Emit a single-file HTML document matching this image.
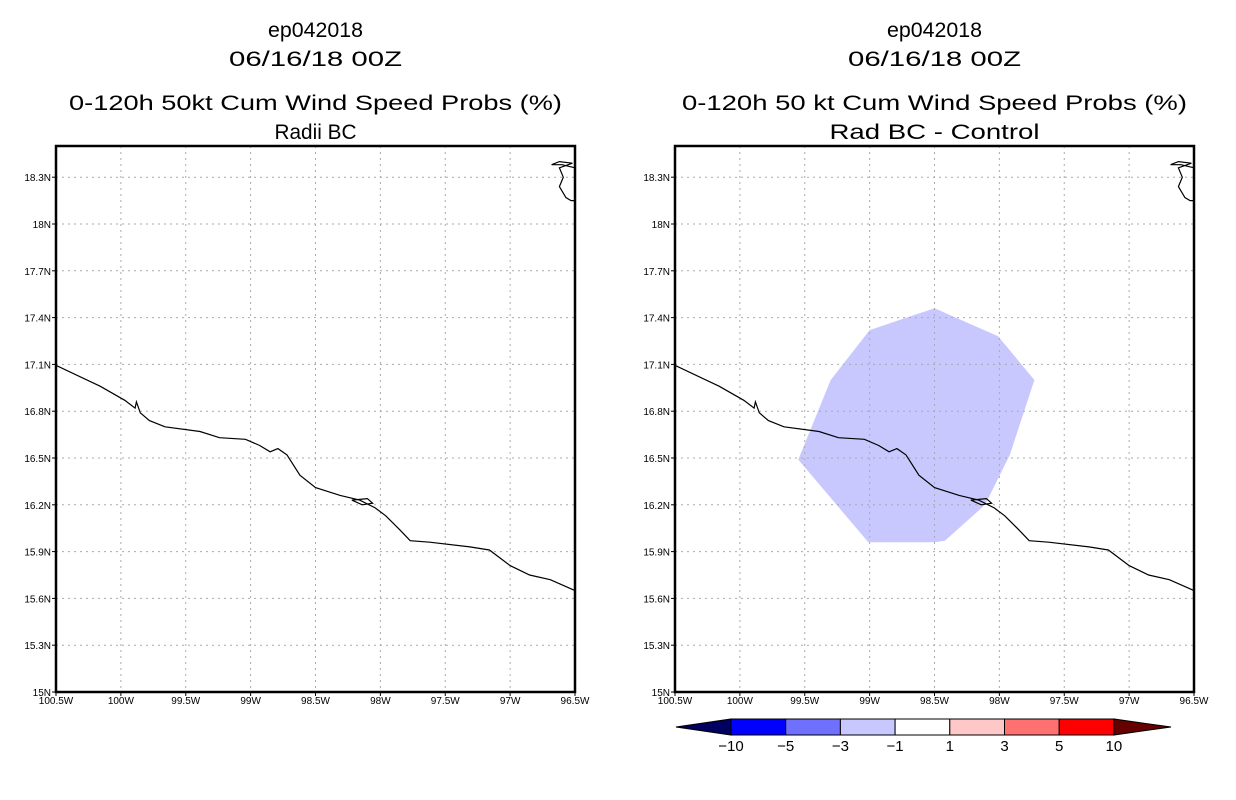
<!DOCTYPE html>
<html><head><meta charset="utf-8"><style>
body{margin:0;background:#fff;}
svg{display:block;font-family:"Liberation Sans",sans-serif;}
</style></head><body>
<svg id="svg" width="1236" height="800" xmlns="http://www.w3.org/2000/svg"></svg>
<script>
const lonTicks=[-100.5,-100,-99.5,-99,-98.5,-98,-97.5,-97,-96.5];
const lonLabels=["100.5W","100W","99.5W","99W","98.5W","98W","97.5W","97W","96.5W"];
const latTicks=[15,15.3,15.6,15.9,16.2,16.5,16.8,17.1,17.4,17.7,18,18.3];
const latLabels=["15N","15.3N","15.6N","15.9N","16.2N","16.5N","16.8N","17.1N","17.4N","17.7N","18N","18.3N"];
const coastLon=[-100.5,-100.49,-100.16,-99.97,-99.89,-99.88,-99.85,-99.78,-99.66,-99.39,-99.24,-99.04,-98.93,-98.85,-98.79,-98.72,-98.62,-98.50,-98.31,-98.16,-98.04,-97.96,-97.85,-97.77,-97.62,-97.31,-97.16,-97.0,-96.85,-96.69,-96.5];
const coastLat=[17.09,17.09,16.96,16.87,16.82,16.86,16.79,16.74,16.70,16.67,16.63,16.62,16.58,16.54,16.56,16.52,16.39,16.31,16.26,16.23,16.18,16.13,16.04,15.97,15.96,15.93,15.91,15.81,15.75,15.72,15.65];
const coast2Lon=[-96.5,-96.60,-96.68,-96.62,-96.52,-96.62,-96.59,-96.62,-96.57,-96.53,-96.5];
const coast2Lat=[18.36,18.38,18.38,18.40,18.39,18.36,18.30,18.24,18.17,18.15,18.15];
const islandLon=[-98.22,-98.10,-98.06,-98.14,-98.22];
const islandLat=[16.23,16.24,16.21,16.20,16.23];
const probLon=[-99.55,-99.30,-99.0,-98.5,-98.01,-97.73,-97.92,-98.11,-98.42,-98.5,-99.01];
const probLat=[16.49,17.0,17.32,17.46,17.28,17.0,16.52,16.2,15.97,15.96,15.96];
const cbLevels=["-10","-5","-3","-1","1","3","5","10"];
const cbColors=["#000060","#0000ff","#7070ff","#c8c8ff","#ffffff","#ffc8c8","#ff7070","#ff0000","#660000"];

const NS="http://www.w3.org/2000/svg";
const svg=document.getElementById('svg');
function mk(t,a,p){const e=document.createElementNS(NS,t);for(const k in a)e.setAttribute(k,a[k]);(p||svg).appendChild(e);return e;}
const T=146,B=692,W=519;
function xs(x0){return lon=>x0+(lon+100.5)/4*W;}
function ys(lat){return B-(lat-15)/3.5*(B-T);}
function pts(fx,L,A){return L.map((l,i)=>fx(l).toFixed(1)+","+ys(A[i]).toFixed(1)).join(" ");}

function panel(x0,t3,t4,name,withProb,lens){
  const g=mk('g',{});
  
  
  const fx=xs(x0), cx=x0+W/2;
  [["ep042018",37],["06/16/18 00Z",66],[t3,110],[t4,139]].forEach((s,i)=>{
    const t=mk('text',{x:cx,y:s[1],'text-anchor':'middle','font-size':21,fill:'#000',textLength:lens[i],lengthAdjust:'spacingAndGlyphs'},g);
    t.textContent=s[0];
    
    
  });
  if(withProb){
    const p=mk('polygon',{points:pts(fx,probLon,probLat),fill:'#c8c8ff',stroke:'none'},g);
    
    
  }
  lonTicks.forEach((l,i)=>{
    const x=fx(l);
    if(i>0&&i<lonTicks.length-1){const gl=mk('line',{x1:x,x2:x,y1:T,y2:B,stroke:'#aaa','stroke-dasharray':'2,4'},g);
      }
    mk('line',{x1:x,x2:x,y1:B,y2:B+4,stroke:'#000'},g);
    const t=mk('text',{x:x,y:B+12,'text-anchor':'middle','font-size':10},g);
    t.textContent=lonLabels[i];
    
    
  });
  latTicks.forEach((l,i)=>{
    const y=ys(l);
    if(i>0){const gl=mk('line',{x1:x0,x2:x0+W,y1:y,y2:y,stroke:'#aaa','stroke-dasharray':'2,4'},g);
      }
    mk('line',{x1:x0-4,x2:x0,y1:y,y2:y,stroke:'#000'},g);
    const t=mk('text',{x:x0-5,y:y+4,'text-anchor':'end','font-size':10},g);
    t.textContent=latLabels[i];
    
    
  });
  [[coastLon,coastLat],[coast2Lon,coast2Lat],[islandLon,islandLat]].forEach(c=>{
    const pl=mk('polyline',{points:pts(fx,c[0],c[1]),fill:'none',stroke:'#000','stroke-width':1.2},g);
    
    
  });
  const f=mk('rect',{x:x0,y:T,width:W,height:B-T,fill:'none',stroke:'#000','stroke-width':2.5},g);
  
  
}
panel(56,"0-120h 50kt Cum Wind Speed Probs (%)","Radii BC","left-panel",false,[95,173,493,82]);
panel(675,"0-120h 50 kt Cum Wind Speed Probs (%)","Rad BC - Control","right-panel",true,[95,173,505,210]);

// colorbar
const cb=mk('g',{});


const cbX0=731,cbW=54.7,cy0=719,cy1=735;
mk('polygon',{points:`676,727 ${cbX0},${cy0} ${cbX0},${cy1}`,fill:cbColors[0],stroke:'#000'},cb);
const xr=cbX0+cbW*7;
cbColors.slice(1,8).forEach((c,i)=>{
  const r=mk('rect',{x:cbX0+i*cbW,y:cy0,width:cbW,height:cy1-cy0,fill:c,stroke:'#000'},cb);
  
  
});
mk('polygon',{points:`${xr},${cy0} ${xr},${cy1} 1171,727`,fill:cbColors[8],stroke:'#000'},cb);
cbLevels.forEach((s,i)=>{
  const t=mk('text',{x:cbX0+i*cbW,y:751,'text-anchor':'middle','font-size':15},cb);
  t.textContent=s.replace('-','\u2212');
  
  
});
</script>
</body></html>
